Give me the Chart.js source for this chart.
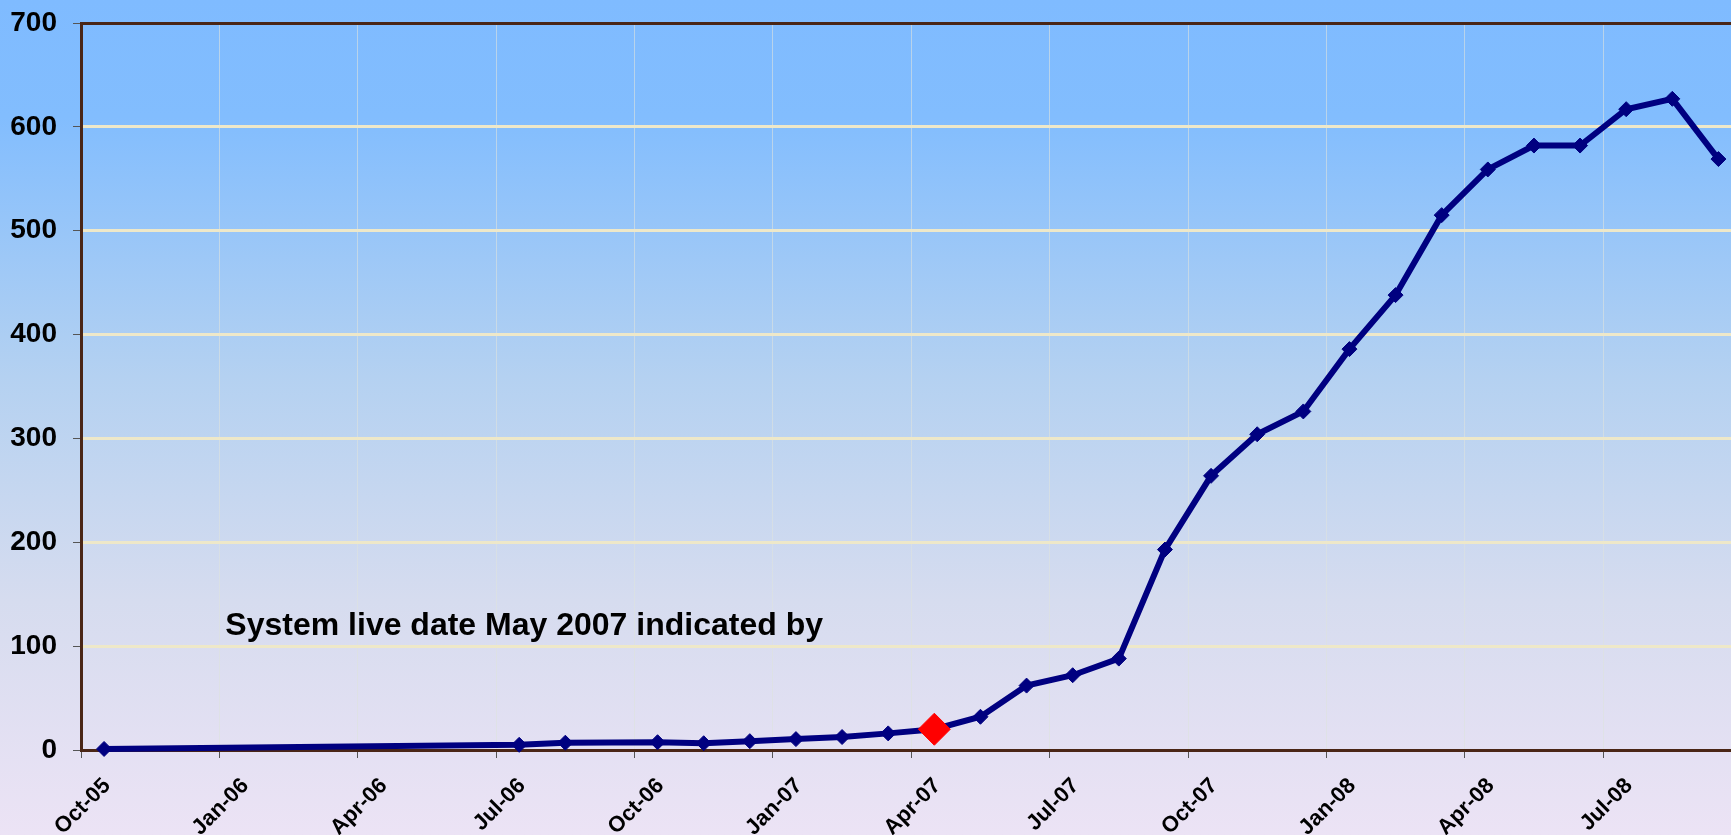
<!DOCTYPE html>
<html>
<head>
<meta charset="utf-8">
<title>System usage since Oct-05</title>
<script src="https://cdn.jsdelivr.net/npm/chart.js@4.4.1/dist/chart.umd.min.js"></script>
<style>
  html, body { margin: 0; padding: 0; overflow: hidden; }
  body {
    width: 1731px; height: 835px;
    background: linear-gradient(to bottom, #7fbbff 0%, #82bdfe 14%, #b4d1f1 45%, #d6dcef 72%, #ece3f5 100%);
  }
  /* plot runs off the right edge in the original, so the canvas is a bit wider than the window */
  #wrap { position: relative; width: 1750px; height: 835px; }
</style>
</head>
<body>
<div id="wrap"><canvas id="chart"></canvas></div>
<script>
var MONTH_NAMES = ['Jan','Feb','Mar','Apr','May','Jun','Jul','Aug','Sep','Oct','Nov','Dec'];

// months with a reading (gaps are simply joined by the line)
var months = [
  'Oct-05','Jul-06','Aug-06','Oct-06','Nov-06','Dec-06','Jan-07','Feb-07','Mar-07',
  'Apr-07','May-07','Jun-07','Jul-07','Aug-07','Sep-07','Oct-07','Nov-07','Dec-07',
  'Jan-08','Feb-08','Mar-08','Apr-08','May-08','Jun-08','Jul-08','Aug-08','Sep-08'
];
var values = [
  1, 5, 7, 7.5, 6.5, 8.5, 10.5, 12.5, 16,
  20, 32, 62, 72, 88, 193, 264, 304, 326,
  386, 438, 515, 559, 582, 582, 617, 627, 569
];
var tickLabels = ['Oct-05','Jan-06','Apr-06','Jul-06','Oct-06','Jan-07','Apr-07','Jul-07','Oct-07','Jan-08','Apr-08','Jul-08'];
var yTicks = [0, 100, 200, 300, 400, 500, 600, 700];
var liveMonth = 'Apr-07';
var noteText = 'System live date May 2007 indicated by';

var FONT = '"Liberation Sans", Arial, sans-serif';
var AXIS_COLOR = '#4a2616';
var NAVY = '#000080';

// months counted from Oct-05
function monthIndex(label) {
  var p = label.split('-');
  return (2000 + Number(p[1])) * 12 + MONTH_NAMES.indexOf(p[0]) - (2005 * 12 + 9);
}

var points = months.map(function(m, i) {
  return { x: monthIndex(m) + 0.5, y: values[i] };   // plotted mid-month
});

function isLive(ctx) { return months[ctx.dataIndex] === liveMonth; }

var notePlugin = {
  id: 'note',
  afterDatasetsDraw: function(chart) {
    var c = chart.ctx, xs = chart.scales.x, ys = chart.scales.y;
    c.save();
    c.font = 'bold 32px ' + FONT;
    c.fillStyle = '#000';
    c.textBaseline = 'alphabetic';
    c.fillText(noteText, xs.getPixelForValue(3.13), ys.getPixelForValue(110.5));
    c.restore();
  }
};

new Chart(document.getElementById('chart'), {
  type: 'line',
  data: {
    datasets: [{
      data: points,
      borderColor: NAVY,
      borderWidth: 6,
      tension: 0,
      clip: false,
      pointStyle: 'rectRot',
      pointRadius: function(ctx) { return isLive(ctx) ? 16 : 7.5; },
      pointBackgroundColor: function(ctx) { return isLive(ctx) ? '#ff0000' : NAVY; },
      pointBorderColor: function(ctx) { return isLive(ctx) ? '#ff0000' : NAVY; },
      pointBorderWidth: 1
    }]
  },
  plugins: [notePlugin],
  options: {
    responsive: true,
    maintainAspectRatio: false,
    animation: false,
    layout: { padding: { top: 23, right: 3, left: 0, bottom: 0 } },
    plugins: { legend: { display: false }, tooltip: { enabled: false } },
    scales: {
      x: {
        type: 'linear',
        min: 0,
        max: 36,
        afterBuildTicks: function(scale) {
          scale.ticks = tickLabels.map(function(l) { return { value: monthIndex(l) }; });
        },
        afterFit: function(scale) {
          scale.height = 85;
          scale.paddingLeft = 0;
          scale.paddingRight = 0;
        },
        ticks: {
          autoSkip: false,
          minRotation: 45,
          maxRotation: 45,
          labelOffset: 26,
          padding: 15,
          color: '#000',
          font: { family: FONT, size: 22, weight: 'bold' },
          callback: function(val, i) { return tickLabels[i]; }
        },
        grid: {
          color: function(ctx) { return ctx.tick && ctx.tick.value === 0 ? 'rgba(0,0,0,0)' : 'rgba(222,226,222,0.6)'; },
          lineWidth: 1,
          tickLength: 8,
          tickColor: '#555',
          tickWidth: 1
        },
        border: { color: AXIS_COLOR, width: 3 }
      },
      y: {
        min: 0,
        max: 700,
        afterBuildTicks: function(scale) {
          scale.ticks = yTicks.map(function(v) { return { value: v }; });
        },
        afterFit: function(scale) {
          scale.width = 81;
          scale.paddingTop = 0;
          scale.paddingBottom = 0;
        },
        ticks: {
          padding: 16,
          color: '#000',
          font: { family: FONT, size: 28, weight: 'bold' }
        },
        grid: {
          color: function(ctx) {
            if (!ctx.tick) return 'rgba(0,0,0,0)';
            if (ctx.tick.value === 0) return 'rgba(0,0,0,0)';
            if (ctx.tick.value === 700) return AXIS_COLOR;
            return '#eee8c9';
          },
          lineWidth: 3,
          tickLength: 8,
          tickColor: '#555',
          tickWidth: 1
        },
        border: { color: AXIS_COLOR, width: 3 }
      }
    }
  }
});
</script>
</body>
</html>
